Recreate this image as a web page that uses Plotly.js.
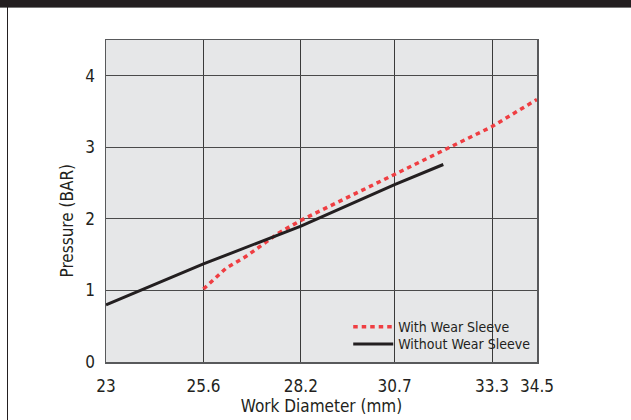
<!DOCTYPE html>
<html><head><meta charset="utf-8">
<script src="https://cdn.plot.ly/plotly-3.0.1.min.js"></script>
<style>
html,body{margin:0;padding:0;background:#fff;}
#wrap{position:relative;width:631px;height:420px;overflow:hidden;}
#bar{position:absolute;left:0;top:0;width:631px;height:7px;background:#231f20;border-bottom:1px solid #777;}
#lline{position:absolute;left:7px;top:7px;width:1px;height:413px;background:#231f20;}
#chart{position:absolute;left:0;top:0;width:631px;height:420px;}
</style></head>
<body><div id="wrap"><div id="chart"></div><div id="bar"></div><div id="lline"></div></div>
<script>
var withX = [25.6, 26.2, 26.75, 27.6, 28.2, 30.7, 33.3, 34.5];
var withY = [1.02, 1.31, 1.48, 1.80, 1.98, 2.62, 3.29, 3.67];
var withoutX = [23, 25.6, 28.2, 30.7, 32.0];
var withoutY = [0.80, 1.37, 1.90, 2.48, 2.76];
var xTicks = [23, 25.6, 28.2, 30.7, 33.3, 34.5];
var xTickText = ['23', '25.6', '28.2', '30.7', '33.3', '34.5'];
var yTicks = [0, 1, 2, 3, 4];

var FONT = "'Liberation Sans Narrow', 'DejaVu Sans Condensed', 'Liberation Sans', Arial, sans-serif";
var TXT = '#231f20';

var traces = [
  {x: withX, y: withY, type: 'scatter', mode: 'lines', name: 'With Wear Sleeve',
   line: {color: '#ef3e42', width: 3.5, dash: '4.5px,4px'}, legend: 'legend'},
  {x: withoutX, y: withoutY, type: 'scatter', mode: 'lines', name: 'Without Wear Sleeve',
   line: {color: '#231f20', width: 3}, legend: 'legend2'}
];

var legendBase = {bgcolor: 'rgba(0,0,0,0)', borderwidth: 0, font: {family: FONT, size: 14, color: TXT},
  xanchor: 'left', yanchor: 'middle', itemwidth: 40};

var layout = {
  width: 631, height: 420,
  margin: {l: 106, r: 94, t: 40, b: 58},
  paper_bgcolor: 'rgba(0,0,0,0)',
  plot_bgcolor: '#e6e7e8',
  font: {family: FONT, color: TXT},
  showlegend: true,
  xaxis: {
    range: [23, 34.5], tickvals: xTicks, ticktext: xTickText,
    showgrid: true, gridcolor: '#3a3a3a', gridwidth: 1,
    showline: true, linecolor: '#58595b', linewidth: 1.5, mirror: true,
    zeroline: false, ticks: '', ticklabelstandoff: 8,
    tickfont: {family: FONT, size: 17, color: TXT},
    title: {text: 'Work Diameter (mm)', font: {family: FONT, size: 17, color: TXT}, standoff: 2}
  },
  yaxis: {
    range: [0, 4.5], tickvals: yTicks,
    showgrid: true, gridcolor: '#4a4a4a', gridwidth: 1,
    showline: true, linecolor: '#58595b', linewidth: 1.5, mirror: true,
    zeroline: false, ticks: '', ticklabelstandoff: 6,
    tickfont: {family: FONT, size: 17, color: TXT},
    title: {text: ''}
  },
  legend: Object.assign({}, legendBase, {x: 0.562, y: 0.108}),
  legend2: Object.assign({}, legendBase, {x: 0.562, y: 0.055}),
  annotations: [{
    text: 'Pressure (BAR)', xref: 'paper', yref: 'paper', x: -0.09, y: 0.44,
    textangle: -90, showarrow: false, xanchor: 'center', yanchor: 'middle',
    font: {family: FONT, size: 17, color: TXT}
  }]
};

Plotly.newPlot('chart', traces, layout, {displayModeBar: false, staticPlot: true});
</script></body></html>
